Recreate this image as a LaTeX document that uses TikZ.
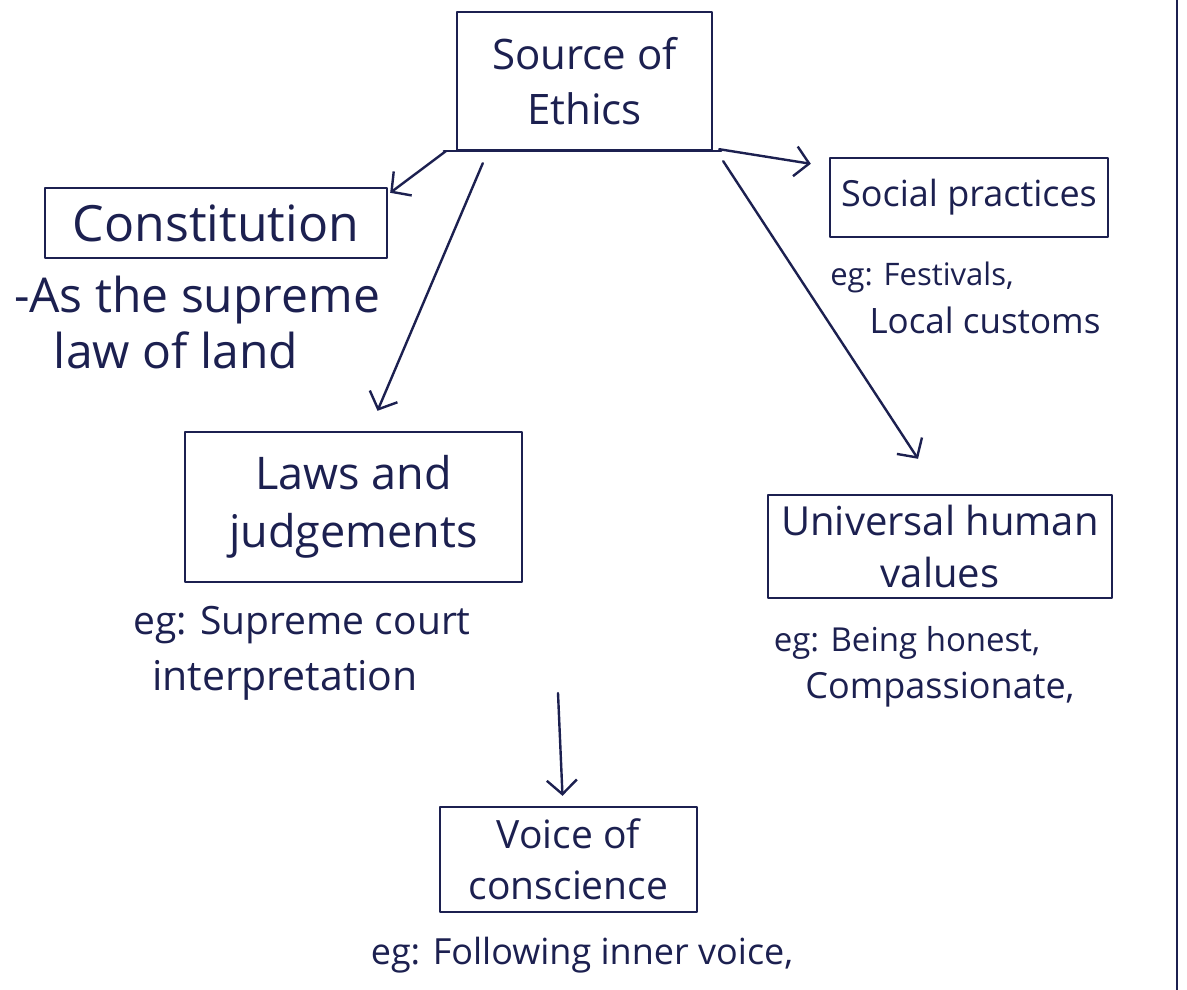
\documentclass[tikz,border=0pt]{standalone}
\usepackage{fontspec}
\setmainfont{Open Sans}
\usetikzlibrary{arrows.meta,calc}
\definecolor{ink}{HTML}{1C2050}
% font of a given size with a proportional baseline skip
\newcommand\inksize[1]{\fontsize{#1}{\dimexpr #1pt*13/10\relax}\selectfont}
\begin{document}
\begin{tikzpicture}[x=1pt,y=-1pt,
  ink line/.style={draw=ink,line width=2.4pt,line cap=round,line join=round},
  topic/.style={ink line,rectangle,inner sep=0pt,align=center,text=ink,
    font=\inksize{#1}},
  topic/.default=40,
  note/.style={inner sep=0pt,text=ink,font=\inksize{#1}},
  note/.default=36,
  link/.style={ink line,-{Straight Barb[length=14pt,width=30pt,line width=2.4pt]}}]
\useasboundingbox (0,0) rectangle (1187,990);
\fill[white] (0,0) rectangle (1187,990);

% notebook margin line
\draw[ink,line width=2.6pt] (1177,0) -- (1177,990);

% topic boxes
\node[topic=42,minimum width=255pt,minimum height=138pt] (src) at (584.5,81) {Source of\\Ethics};
\node[topic=50,minimum width=342pt,minimum height=70pt] (con) at (216,223) {Constitution};
\node[topic=45,minimum width=337pt,minimum height=150pt] (laws) at (353.5,507) {Laws and\\judgements};
\node[topic=36,minimum width=278pt,minimum height=79pt] (soc) at (969,197.5) {Social practices};
\node[topic=40,minimum width=344pt,minimum height=103pt] (uni) at (940,546.5) {Universal human\\values};
\node[topic=39,minimum width=257pt,minimum height=105pt] (voice) at (568.5,859.5) {Voice of\\conscience};

% notes under the boxes
\node[note=48] (conA) at (197,300) {-As the supreme};
\node[note=48] (conB) at (176,350) {law of land};
\node[note=39] (lawA) at (302,625) {eg: Supreme court};
\node[note=41] (lawB) at (285,680) {interpretation};
\node[note=31] (socA) at (922,277) {eg: Festivals,};
\node[note=35] (socB) at (985,320) {Local customs};
\node[note=33] (uniA) at (907,643) {eg: Being honest,};
\node[note=36] (uniB) at (940,690) {Compassionate,};
\node[note=36] (voiA) at (582,955) {eg: Following inner voice,};

% connectors
\coordinate (vtop) at (558,693);
\draw[ink line] ($(src.south west)+(-12,0)$) -- ($(src.south east)+(8,0)$);
\draw[link] ($(src.south west)+(-10,0)$) -- ($(con.north east)+(2,6)$);
\draw[link] ($(src.south west)+(27,12)$) -- ($(laws.north)+(24,-20)$);
\draw[link] ($(src.south east)+(6,-2)$) -- ($(soc.north west)+(-18,7)$);
\draw[link] ($(src.south east)+(10,10)$) -- ($(uni.north)+(-22,-35)$);
\draw[link] (vtop) -- ($(voice.north)+(-6,-10)$);
\end{tikzpicture}
\end{document}
